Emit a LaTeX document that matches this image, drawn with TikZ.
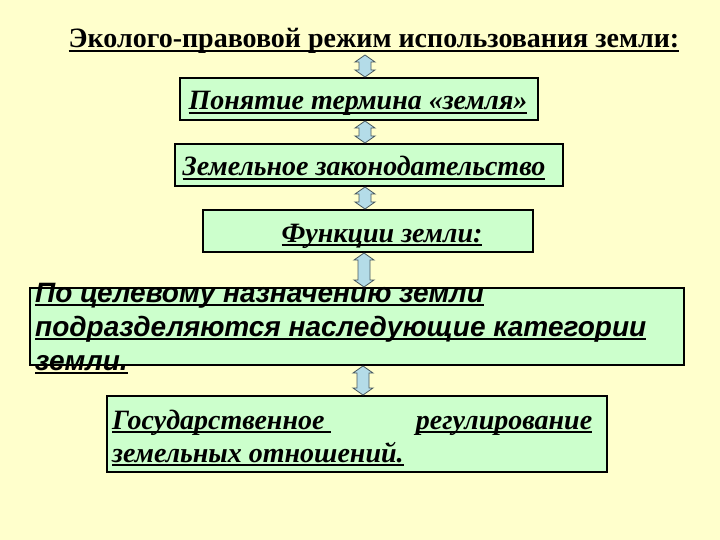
\documentclass[tikz,border=0pt]{standalone}
\usepackage{fontspec}
\setmainfont{Liberation Serif}
\setsansfont{Liberation Sans}
\usetikzlibrary{calc}
\definecolor{bgyellow}{HTML}{FFFFCC}
\definecolor{boxgreen}{HTML}{CCFFCC}
\definecolor{arrblue}{HTML}{B4DCE8}
\definecolor{arredge}{HTML}{4A5A60}
\tikzset{
  box/.style={draw=black, line width=2pt, fill=boxgreen, inner sep=0pt, anchor=center},
  arr/.style={draw=arredge, line width=0.8pt, fill=arrblue},
  txt/.style={inner sep=0pt, anchor=base west},
  ctxt/.style={inner sep=0pt, anchor=base}
}
\newcommand\sz{\fontsize{28}{30}\selectfont}
\newsavebox\ulbox
\newcommand\myul[1]{\sbox\ulbox{#1}\rlap{\rule[-4pt]{\wd\ulbox}{1.6pt}}\usebox\ulbox}
\newcommand\blockarrow[2]{%
  \path[arr] let \p1=(#1), \p2=(#2) in
   (\x1,\y1) -- (\x1+10pt,\y1-7pt) -- (\x1+6pt,\y1-7pt) -- (\x1+6pt,\y2+7pt)
   -- (\x1+10pt,\y2+7pt) -- (\x1,\y2) -- (\x1-10pt,\y2+7pt) -- (\x1-6pt,\y2+7pt)
   -- (\x1-6pt,\y1-7pt) -- (\x1-10pt,\y1-7pt) -- cycle;}
\begin{document}
\begin{tikzpicture}[x=1pt,y=-1pt]
\useasboundingbox (0,0) rectangle (720,540);
\fill[bgyellow] (0,0) rectangle (720,540);
% title
\node[ctxt] (title) at (374,48)
  {\sz\bfseries\myul{Эколого-правовой режим использования земли:}};
% boxes
\node[box, minimum width=358, minimum height=42] (b1) at (359,99) {};
\node[box, minimum width=388, minimum height=42] (b2) at (369,165) {};
\node[box, minimum width=330, minimum height=42] (b3) at (368,231) {};
\node[box, minimum width=654, minimum height=77] (b4) at (357,326.5) {};
\node[box, minimum width=500, minimum height=76] (b5) at (357,434) {};
% texts
\node[ctxt] (t1) at (358,110)
  {\sz\bfseries\itshape\myul{Понятие термина «земля»}};
\node[ctxt] (t2) at (364,176)
  {\sz\bfseries\itshape\myul{Земельное законодательство}};
\node[ctxt] (t3) at (382,242)
  {\sz\bfseries\itshape\myul{Функции земли:}};
\node[txt] (t4a) at (35,302)
  {\sz\sffamily\bfseries\itshape\myul{По целевому назначению земли}};
\node[txt] (t4b) at (35,336)
  {\sz\sffamily\bfseries\itshape\myul{подразделяются наследующие категории}};
\node[txt] (t4c) at (35,370)
  {\sz\sffamily\bfseries\itshape\myul{земли.}};
\node[txt, text width=480, align=justify] (t5a) at (112,429)
  {\sz\bfseries\itshape\myul{Государственное\ }\hfill\myul{регулирование}};
\node[txt] (t5b) at (112,462)
  {\sz\bfseries\itshape\myul{земельных отношений.}};
% arrows
\coordinate (ax1) at (365,0);
\coordinate (ax3) at (364,0);
\coordinate (ax5) at (363,0);
\coordinate (a1t) at (365,55);
\blockarrow{a1t}{b1.north -| ax1}
\blockarrow{b1.south -| ax1}{b2.north -| ax1}
\blockarrow{b2.south -| ax1}{b3.north -| ax1}
\blockarrow{b3.south -| ax3}{b4.north -| ax3}
\blockarrow{b4.south -| ax5}{b5.north -| ax5}
\end{tikzpicture}
\end{document}
